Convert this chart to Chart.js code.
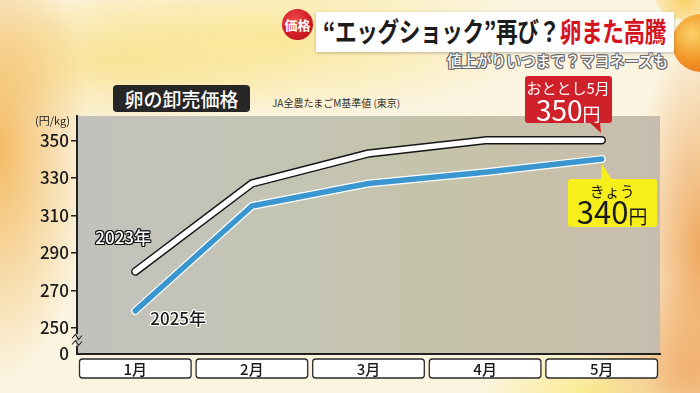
<!DOCTYPE html>
<html><head><meta charset="utf-8">
<script src="https://cdn.jsdelivr.net/npm/chart.js@4.4.1/dist/chart.umd.min.js"></script>
<style>
html,body{margin:0;padding:0;width:700px;height:393px;overflow:hidden;}
body{position:relative;font-family:"Noto Sans CJK JP","Noto Sans",sans-serif;
background:
 radial-gradient(ellipse 90px 230px at 0px 150px, rgba(242,178,80,0.85), rgba(242,178,80,0) 100%),
 radial-gradient(ellipse 70px 220px at 700px 250px, rgba(238,160,80,0.9), rgba(238,160,80,0) 100%),
 radial-gradient(ellipse 110px 90px at 690px 370px, rgba(240,175,110,0.8), rgba(240,175,110,0) 100%),
 radial-gradient(ellipse 260px 80px at 280px 40px, rgba(250,228,130,0.75), rgba(250,228,130,0) 100%),
 radial-gradient(ellipse 110px 50px at 590px 393px, rgba(250,232,120,0.8), rgba(250,232,120,0) 100%),
 radial-gradient(ellipse 200px 70px at 120px 60px, rgba(248,215,110,0.6), rgba(248,215,110,0) 100%),
 #fbf4e0;}
#c{position:absolute;left:0;top:0;}
.abs{position:absolute;white-space:nowrap;}
#ball{left:672px;top:14px;width:58px;height:58px;border-radius:50%;
 background:radial-gradient(circle at 35% 35%, #fbd26a 0%, #f39a2a 45%, #e0611a 100%);}
#ball2{left:655px;top:-30px;width:60px;height:50px;border-radius:50%;
 background:radial-gradient(circle at 50% 60%, rgba(250,205,90,0.9), rgba(250,205,90,0));}
#banner{left:316px;top:12px;width:358px;height:40px;background:#fff;
 box-shadow:0 1px 3px rgba(0,0,0,0.25);}
#tag{left:282px;top:9px;width:31px;height:31px;border-radius:50%;
 background:radial-gradient(circle at 40% 35%, #ec4a4a 0%, #d01b22 60%, #b0121a 100%);
 color:#fff;font-weight:700;font-size:13px;line-height:31px;text-align:center;}
#title{left:323px;top:12px;font-size:27px;font-weight:700;color:#1c1c1c;line-height:38px;letter-spacing:-0.5px;}
#title .r{color:#d3141e;}
#sub{left:447px;top:50px;font-size:16px;font-weight:500;color:#fbfbfb;line-height:20px;
 text-shadow:1px 0 #6a6a6a,-1px 0 #6a6a6a,0 1px #6a6a6a,0 -1px #6a6a6a,1px 1px #6a6a6a,-1px -1px #6a6a6a,1px -1px #6a6a6a,-1px 1px #6a6a6a;}
#cap{left:113px;top:85px;width:137px;height:27px;background:#262626;border-radius:4px;
 color:#fff;font-size:19px;font-weight:500;line-height:27px;text-align:center;}
#src{left:272px;top:96px;font-size:10px;color:#333;line-height:13px;}
#unit{left:35px;top:113px;font-size:11px;color:#222;line-height:14px;}
.ser{font-size:17px;font-weight:500;line-height:20px;}
#s23{color:#fff;text-shadow:1px 0 #111,-1px 0 #111,0 1px #111,0 -1px #111,1px 1px #111,-1px -1px #111,1px -1px #111,-1px 1px #111;}
#s25{color:#1a1a1a;text-shadow:1px 0 #fff,-1px 0 #fff,0 1px #fff,0 -1px #fff,1px 1px #fff,-1px -1px #fff,1px -1px #fff,-1px 1px #fff;}
.call{position:absolute;border-radius:3px;text-align:center;}
#callR{width:87px;height:47px;background:#d0202a;color:#fff;}
#callY{width:89px;height:48px;background:#f6ef1c;color:#1a1a1a;}
.call svg{position:absolute;left:0;top:0;overflow:visible;}
.l1{position:absolute;left:0;width:100%;font-size:15px;line-height:16px;}
.l2{position:absolute;left:0;width:100%;line-height:28px;}
</style></head>
<body>
<div id="ball2" class="abs"></div>
<div id="ball" class="abs"></div>
<div id="banner" class="abs"></div>
<div id="tag" class="abs">価格</div>
<div id="title" class="abs">“エッグショック”再び？<span class="r">卵また高騰</span></div>
<div id="sub" class="abs">値上がりいつまで？マヨネーズも</div>
<div id="cap" class="abs">卵の卸売価格</div>
<div id="src" class="abs">JA全農たまごM基準値 (東京)</div>
<canvas id="c" width="700" height="393"></canvas>
<div id="unit" class="abs">(円/kg)</div>
<div id="s23" class="abs ser"></div>
<div id="s25" class="abs ser"></div>
<div id="callR" class="call"><svg width="1" height="1"><polygon id="triR" fill="#d0202a" points="0,0 0,0 0,0"/></svg><div class="l1" style="top:4px">おととし5月</div><div class="l2" style="top:19px"><span id="vR" style="font-size:28px">350</span><span style="font-size:18px">円</span></div></div>
<div id="callY" class="call"><svg width="1" height="1"><polygon id="triY" fill="#f6ef1c" points="0,0 0,0 0,0"/></svg><div class="l1" style="top:4px">きょう</div><div class="l2" style="top:18px"><span id="vY" style="font-size:31px">340</span><span style="font-size:19px">円</span></div></div>
<script>
// ---- data ----
const months = ['1月','2月','3月','4月','5月'];
const seriesNames = ['2023年','2025年'];
const price2023 = [280, 327, 343, 350, 350];
const price2025 = [259, 315, 327, 333, 340];
const yTicks = [250, 270, 290, 310, 330, 350];
const yBreakValue = 236;   // axis bottom, labelled "0" (broken axis)
const yBreakLabel = '0';
const yMax = 363;
const calloutTitles = ['おととし5月', 'きょう'];

const FONT = '"Noto Sans CJK JP","Noto Sans",sans-serif';

function fitX(el, w){
  el.style.transform='none';
  const r = el.getBoundingClientRect().width;
  el.style.transformOrigin='left top';
  el.style.transform='scaleX('+(w/r)+')';
}

let placed = false;
const decor = {
  id:'decor',
  beforeDraw(chart){
    const {ctx, chartArea:a} = chart;
    const g = ctx.createLinearGradient(a.left,0,a.right,0);
    g.addColorStop(0,'#c2c2bd');
    g.addColorStop(0.35,'#c4c4b4');
    g.addColorStop(0.65,'#c5c3a9');
    g.addColorStop(0.85,'#c8bfab');
    g.addColorStop(1,'#c7bdae');
    ctx.save();
    ctx.fillStyle=g;
    ctx.fillRect(a.left,a.top,a.right-a.left,a.bottom-a.top);
    ctx.restore();
  },
  afterDraw(chart){
    const {ctx, chartArea:a, scales:{x,y}} = chart;
    ctx.save();
    // category label boxes
    const step = (x.getPixelForTick(1)-x.getPixelForTick(0));
    months.forEach((m,i)=>{
      const cx = x.getPixelForTick(i);
      const w = step-5, h = 19, top = a.bottom+5;
      ctx.beginPath();
      ctx.roundRect(cx-w/2, top, w, h, 3);
      ctx.fillStyle='#ffffff'; ctx.fill();
      ctx.lineWidth=1.3; ctx.strokeStyle='#2a2a2a'; ctx.stroke();
      ctx.fillStyle='#1a1a1a';
      ctx.font='500 15px '+FONT;
      ctx.textAlign='center'; ctx.textBaseline='middle';
      ctx.fillText(m, cx, top+h/2+1);
    });
    // axis break mark
    const by = y.getPixelForValue(yBreakValue) - 14;
    ctx.fillStyle='#c3c3bd';
    ctx.beginPath();
    ctx.moveTo(a.left-1, by-6); ctx.lineTo(a.left+1.5, by-6); ctx.lineTo(a.left+1.5,by+6); ctx.lineTo(a.left-1,by+6); ctx.fill();
    ctx.strokeStyle='#222'; ctx.lineWidth=1.1;
    [-3,3].forEach(d=>{
      ctx.beginPath();
      ctx.moveTo(a.left-5, by+d+1.5);
      ctx.lineTo(a.left-1.5, by+d-2.5);
      ctx.lineTo(a.left+1.5, by+d+2.5);
      ctx.lineTo(a.left+5, by+d-1.5);
      ctx.stroke();
    });
    ctx.restore();

    if(!placed){
      placed = true;
      const m0 = chart.getDatasetMeta(0).data, m3 = chart.getDatasetMeta(3).data;
      const p23a = m0[0], p25a = m3[0];
      const p23 = m0[m0.length-1], p25 = m3[m3.length-1];
      const s23 = document.getElementById('s23'), s25 = document.getElementById('s25');
      s23.textContent = seriesNames[0]; s25.textContent = seriesNames[1];
      s23.style.left = (p23a.x-40)+'px'; s23.style.top = (p23a.y-45)+'px';
      s25.style.left = (p25a.x+15)+'px'; s25.style.top = (p25a.y-3)+'px';
      const cR = document.getElementById('callR'), cY = document.getElementById('callY');
      cR.querySelector('.l1').textContent = calloutTitles[0];
      cY.querySelector('.l1').textContent = calloutTitles[1];
      document.getElementById('vR').textContent = price2023[price2023.length-1];
      document.getElementById('vY').textContent = price2025[price2025.length-1];
      const rl = p23.x-77, rt = p23.y-64;
      cR.style.left = rl+'px'; cR.style.top = rt+'px';
      document.getElementById('triR').setAttribute('points',
        `${p23.x-13-rl},46 ${p23.x-2-rl},46 ${p23.x-1-rl},${p23.y-7-rt}`);
      const yl = p25.x-34, yt = p25.y+20;
      cY.style.left = yl+'px'; cY.style.top = yt+'px';
      document.getElementById('triY').setAttribute('points',
        `${p25.x-1-yl},1 ${p25.x+10-yl},1 ${p25.x-yl},${p25.y+5-yt}`);
    }
  }
};

const chart = new Chart(document.getElementById('c'), {
  type:'line',
  data:{
    labels: months,
    datasets:[
      {label:seriesNames[0]+'枠', data:price2023, borderColor:'#151515', borderWidth:8.5, order:4},
      {label:seriesNames[0], data:price2023, borderColor:'#ffffff', borderWidth:5.5, order:3},
      {label:seriesNames[1]+'枠', data:price2025, borderColor:'#ffffff', borderWidth:8, order:2},
      {label:seriesNames[1], data:price2025, borderColor:'#3a96cf', borderWidth:5.5, order:1}
    ]
  },
  options:{
    responsive:false, animation:false, devicePixelRatio:1,
    layout:{padding:{top:116,right:40,left:0,bottom:0}},
    elements:{line:{tension:0,borderCapStyle:'round',borderJoinStyle:'round',fill:false},point:{radius:0,hoverRadius:0}},
    plugins:{legend:{display:false},tooltip:{enabled:false}},
    events:[],
    scales:{
      x:{offset:true, grid:{display:false}, border:{color:'#222',width:2},
         ticks:{display:false}, afterFit(s){s.height=39;}},
      y:{min:yBreakValue, max:yMax,
         afterBuildTicks(s){ s.ticks = [yBreakValue, ...yTicks].map(v=>({value:v})); },
         ticks:{autoSkip:false, color:'#1a1a1a', padding:2,
                font:{size:17, family:FONT, weight:'500'},
                callback:(v)=> v===yBreakValue ? yBreakLabel : String(v)},
         grid:{drawOnChartArea:false, drawTicks:true, tickLength:6, lineWidth:1.5,
               color:(c)=> (c.tick && c.tick.value===yBreakValue) ? 'rgba(0,0,0,0)' : '#222'},
         border:{color:'#222',width:2},
         afterFit(s){s.width=77;}}
    }
  },
  plugins:[decor]
});

fitX(document.getElementById('title'), 343);
fitX(document.getElementById('sub'), 221);
</script>
</body></html>
